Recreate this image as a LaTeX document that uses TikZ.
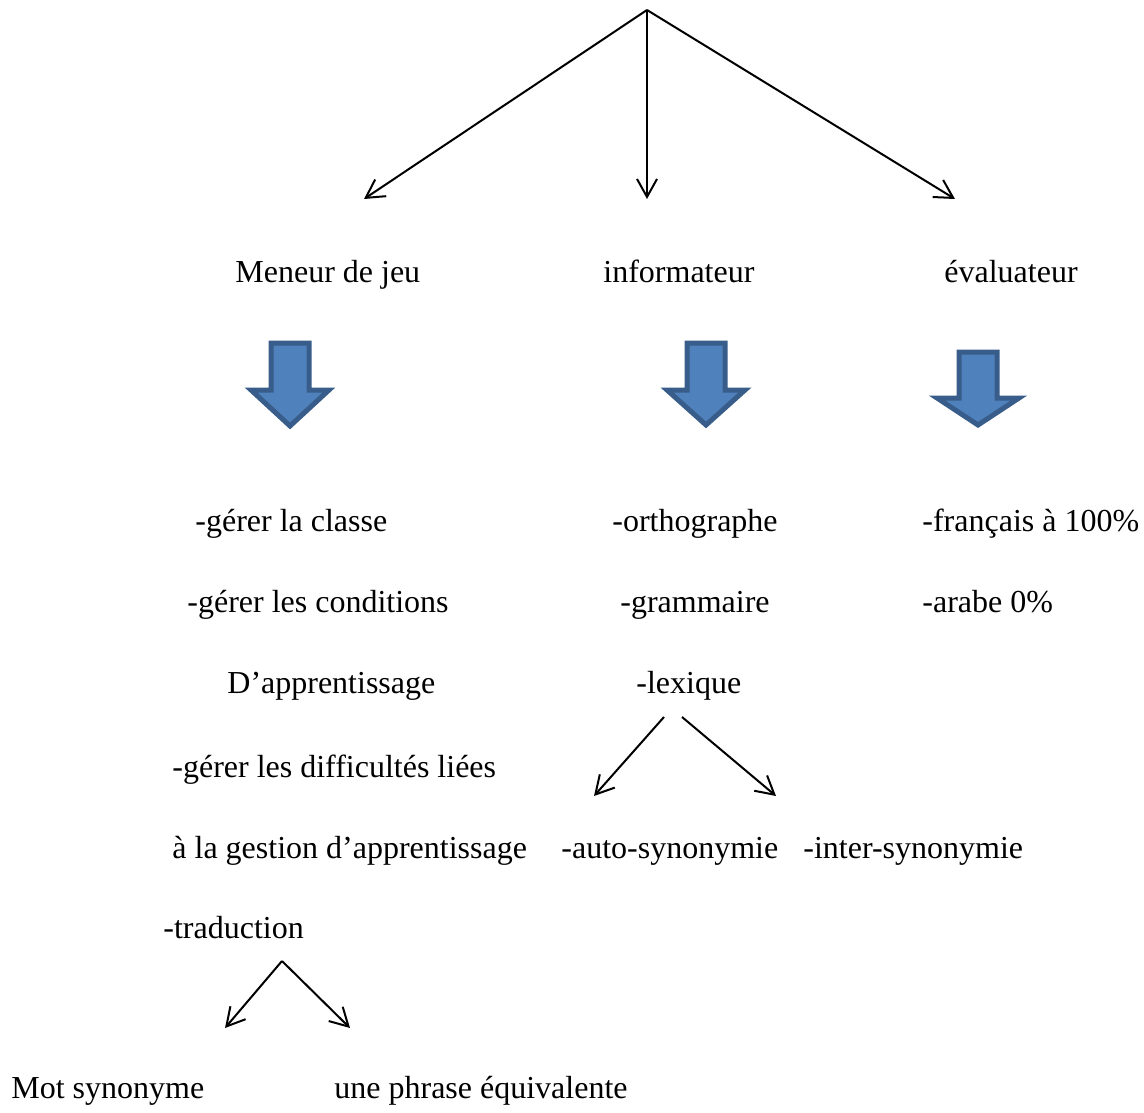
\documentclass[tikz,border=0pt]{standalone}
\usepackage{fontspec}
\setmainfont{Liberation Serif}
\usetikzlibrary{arrows.meta}
\definecolor{blockfill}{RGB}{79,129,189}
\definecolor{blockdraw}{RGB}{56,93,138}

\begin{document}
\begin{tikzpicture}[x=0.5pt, y=-0.5pt, every node/.style={font=\fontsize{16}{19}\selectfont}]
% Define styles
\tikzstyle{txt} = [anchor=base west, inner sep=0pt]
\tikzstyle{arrow} = [line width=1pt, -{Straight Barb[length=9pt, width=10pt]}]
\tikzstyle{bigarrow} = [draw=blockdraw, fill=blockfill, line width=2.5pt, line join=miter]
\useasboundingbox (0,0) rectangle (1144,1112);
% Place nodes
\node (meneur) [txt] at (235,283) {Meneur de jeu};
\node (info) [txt] at (603,283) {informateur};
\node (eval) [txt] at (944,283) {évaluateur};
\node (classe) [txt] at (195,531) {-gérer la classe};
\node (ortho) [txt] at (612,531) {-orthographe};
\node (francais) [txt] at (922,531) {-français à 100\%};
\node (cond) [txt] at (187,612) {-gérer les conditions};
\node (gram) [txt] at (620,612) {-grammaire};
\node (arabe) [txt] at (922,612) {-arabe 0\%};
\node (appr) [txt] at (227,693) {D’apprentissage};
\node (lex) [txt] at (636,693) {-lexique};
\node (diff) [txt] at (172,777) {-gérer les difficultés liées};
\node (gest) [txt] at (172,858) {à la gestion d’apprentissage};
\node (auto) [txt] at (561,858) {-auto-synonymie};
\node (inter) [txt] at (803,858) {-inter-synonymie};
\node (trad) [txt] at (163,938) {-traduction};
\node (mot) [txt] at (11,1098) {Mot synonyme};
\node (phrase) [txt] at (334,1098) {une phrase équivalente};
% Arrow ends
\coordinate (root) at (647,10);
\coordinate (tipL) at (364,199);
\coordinate (tipM) at (647,199);
\coordinate (tipR) at (955,199);
\coordinate (lexL) at (664,717);
\coordinate (lexR) at (682,717);
\coordinate (autotip) at (594,796);
\coordinate (intertip) at (776,796);
\coordinate (tradtop) at (282,961);
\coordinate (mottip) at (225,1028);
\coordinate (phrasetip) at (350,1028);
% Block arrows
\foreach \bx/\by/\bn/\bt/\bh in {290/343/390/426/39, 706/343/390/425/39, 978/352/398/425/41}
  \draw [bigarrow] (\bx-19,\by) -- (\bx+19,\by) -- (\bx+19,\bn) -- (\bx+\bh,\bn)
    -- (\bx,\bt) -- (\bx-\bh,\bn) -- (\bx-19,\bn) -- cycle;
% Draw arrows
\draw [arrow] (root) -- (tipL);
\draw [arrow] (root) -- (tipM);
\draw [arrow] (root) -- (tipR);
\draw [arrow] (lexL) -- (autotip);
\draw [arrow] (lexR) -- (intertip);
\draw [arrow] (tradtop) -- (mottip);
\draw [arrow] (tradtop) -- (phrasetip);
\end{tikzpicture}
\end{document}
